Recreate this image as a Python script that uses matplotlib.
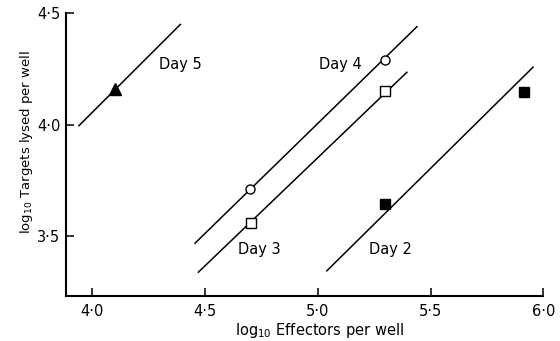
import numpy as np
import matplotlib
matplotlib.use('Agg')
import matplotlib.pyplot as plt

# measured points (log10 effectors, log10 targets lysed)
day5_x = [4.10]
day5_y = [4.16]
day4_x = [4.70, 5.30]
day4_y = [3.71, 4.29]
day3_x = [4.705, 5.30]
day3_y = [3.56, 4.15]
day2_x = [5.30, 5.915]
day2_y = [3.645, 4.145]

# fitted lines, start and end points
day5_line_x = [3.94, 4.39]
day5_line_y = [3.995, 4.45]
day4_line_x = [4.455, 5.44]
day4_line_y = [3.467, 4.44]
day3_line_x = [4.47, 5.395]
day3_line_y = [3.337, 4.235]
day2_line_x = [5.04, 5.955]
day2_line_y = [3.343, 4.258]

day_labels = ["Day 5", "Day 4", "Day 3", "Day 2"]
label_x = [4.39, 5.10, 4.74, 5.32]
label_y = [4.27, 4.27, 3.44, 3.44]

xticks = [4.0, 4.5, 5.0, 5.5, 6.0]
xticklabels = ["4·0", "4·5", "5·0", "5·5", "6·0"]
yticks = [3.5, 4.0, 4.5]
yticklabels = ["3·5", "4·0", "4·5"]

fs = 10.5

fig = plt.figure(figsize=(5.6, 3.41), dpi=100)
ax = fig.add_axes([0.118, 0.132, 0.852, 0.829])

lw = 1.1
ax.plot(day5_line_x, day5_line_y, color='black', lw=lw)
ax.plot(day4_line_x, day4_line_y, color='black', lw=lw)
ax.plot(day3_line_x, day3_line_y, color='black', lw=lw)
ax.plot(day2_line_x, day2_line_y, color='black', lw=lw)

ax.plot(day5_x, day5_y, '^', color='black', ms=8, zorder=3)
ax.plot(day4_x, day4_y, 'o', mfc='white', mec='black', mew=1.0, ms=6.5, zorder=3)
ax.plot(day3_x, day3_y, 's', mfc='white', mec='black', mew=1.0, ms=7, zorder=3)
ax.plot(day2_x, day2_y, 's', color='black', ms=7, zorder=3)

for t, x, y in zip(day_labels, label_x, label_y):
    ax.text(x, y, t, ha='center', va='center', fontsize=fs)

ax.set_xlim(3.883, 6.0)
ax.set_ylim(3.23, 4.5)
ax.set_xticks(xticks)
ax.set_xticklabels(xticklabels, fontsize=fs)
ax.set_yticks(yticks)
ax.set_yticklabels(yticklabels, fontsize=fs)
ax.tick_params(direction='in', length=6, width=1.1)
ax.tick_params(axis='x', pad=6)
ax.tick_params(axis='y', pad=4)

ax.spines['top'].set_visible(False)
ax.spines['right'].set_visible(False)
ax.spines['left'].set_linewidth(1.5)
ax.spines['bottom'].set_linewidth(1.5)

ax.set_xlabel("log$_{10}$ Effectors per well", fontsize=fs)
ax.set_ylabel("log$_{10}$ Targets lysed per well", fontsize=9.5)
ax.xaxis.set_label_coords(0.53, -0.09)
ax.yaxis.set_label_coords(-0.066, 0.545)

fig.savefig("out.png", dpi=100)
